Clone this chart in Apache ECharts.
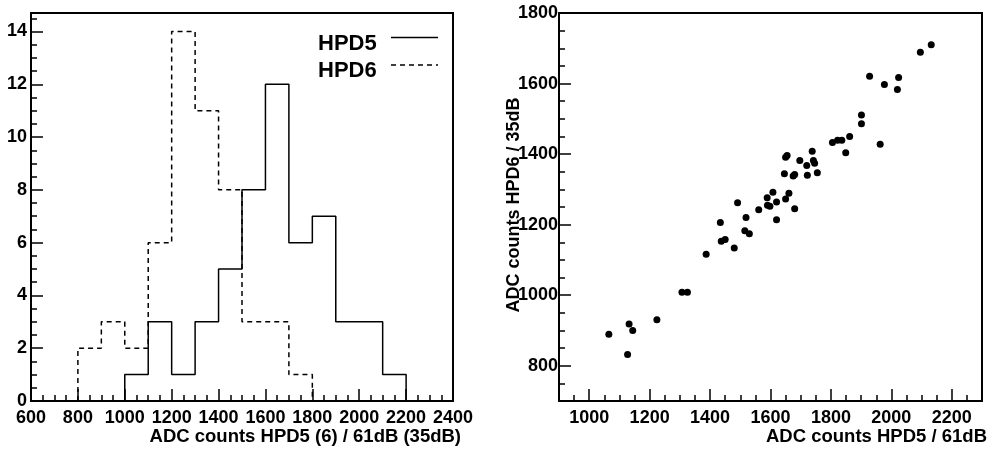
<!DOCTYPE html>
<html>
<head>
<meta charset="utf-8">
<script src="https://cdn.jsdelivr.net/npm/echarts@6/dist/echarts.min.js"></script>
<style>
  html, body { margin: 0; padding: 0; background: #fff; }
  #chart { width: 991px; height: 452px; }
</style>
</head>
<body>
<div id="chart"></div>
<script>
// ---- Data ----
const binWidth = 100;
const hpd5BinLow = [1000, 1100, 1200, 1300, 1400, 1500, 1600, 1700, 1800, 1900, 2000, 2100];
const hpd5Counts = [1, 3, 1, 3, 5, 8, 12, 6, 7, 3, 3, 1];
const hpd6BinLow = [800, 900, 1000, 1100, 1200, 1300, 1400, 1500, 1600, 1700];
const hpd6Counts = [2, 3, 2, 6, 14, 11, 8, 3, 3, 1];

const scatterHPD5 = [2132, 2096, 1928, 1977, 2024, 2020, 1901, 1901, 1963, 1862, 1849, 1805, 1822, 1836,
  1738, 1742, 1746, 1755, 1697, 1720, 1722, 1650, 1655, 1646, 1675, 1680, 1661, 1650, 1680,
  1608, 1620, 1620, 1589, 1590, 1598, 1561, 1491, 1519, 1434, 1515, 1530, 1437, 1450, 1480,
  1387, 1307, 1325, 1224, 1132, 1144, 1065, 1127];
const scatterHPD6 = [1710, 1689, 1621, 1597, 1617, 1583, 1511, 1486, 1428, 1450, 1404, 1433, 1439, 1439,
  1408, 1382, 1374, 1347, 1382, 1368, 1340, 1391, 1396, 1344, 1338, 1342, 1289, 1273, 1245,
  1292, 1264, 1214, 1276, 1255, 1252, 1242, 1262, 1220, 1206, 1183, 1174, 1153, 1158, 1134,
  1116, 1008, 1008, 930, 918, 900, 889, 832];

const leftXTitle = 'ADC counts HPD5 (6) / 61dB (35dB)';
const rightXTitle = 'ADC counts HPD5 / 61dB';
const rightYTitle = 'ADC counts HPD6 / 35dB';
const legendNames = ['HPD5', 'HPD6'];

// ---- Build histogram outlines ----
function histSteps(lows, counts) {
  const pts = [[lows[0], 0]];
  lows.forEach((b, i) => pts.push([b, counts[i]]));
  pts.push([lows[lows.length - 1] + binWidth, 0]);
  return pts;
}
const scatterData = scatterHPD5.map((x, i) => [x, scatterHPD6[i]]);

const FONT = '"Liberation Sans", Arial, Helvetica, sans-serif';
const BLACK = '#000';
const plain = v => String(v);

function labelStyle(extra) {
  return Object.assign({ show: true, color: BLACK, fontSize: 18, fontWeight: 'bold', fontFamily: FONT, formatter: plain }, extra);
}
function mainAxis(extra) {
  return Object.assign({
    type: 'value',
    axisLine: { show: true, onZero: false, lineStyle: { color: BLACK, width: 2 } },
    axisTick: { show: true, inside: true, length: 12, lineStyle: { color: BLACK, width: 1.5 } },
    splitLine: { show: false }
  }, extra);
}
function minorAxis(extra) {
  return Object.assign({
    type: 'value',
    axisLine: { show: false, onZero: false },
    axisTick: { show: true, inside: true, length: 6, lineStyle: { color: BLACK, width: 1.5 } },
    axisLabel: { show: false },
    splitLine: { show: false }
  }, extra);
}

const chart = echarts.init(document.getElementById('chart'), null, { renderer: 'canvas' });
chart.setOption({
  animation: false,
  backgroundColor: '#fff',
  grid: [
    { left: 31, top: 13, right: 538, bottom: 51, show: true, borderColor: BLACK, borderWidth: 2, backgroundColor: 'transparent' },
    { left: 559, top: 13, right: 9, bottom: 51, show: true, borderColor: BLACK, borderWidth: 2, backgroundColor: 'transparent' }
  ],
  xAxis: [
    mainAxis({ gridIndex: 0, position: 'bottom', min: 600, max: 2400, interval: 200,
      axisLabel: labelStyle({ margin: 8 }) }),
    minorAxis({ gridIndex: 0, position: 'bottom', min: 600, max: 2400, interval: 50 }),
    mainAxis({ gridIndex: 1, position: 'bottom', min: 900, max: 2300, splitNumber: 7, minInterval: 200, maxInterval: 200,
      axisLabel: labelStyle({ margin: 8, showMinLabel: false, showMaxLabel: false }) }),
    minorAxis({ gridIndex: 1, position: 'bottom', min: 900, max: 2300, interval: 50 })
  ],
  yAxis: [
    mainAxis({ gridIndex: 0, position: 'left', min: 0, max: 14.7, interval: 2,
      axisLabel: labelStyle({ margin: 4, showMaxLabel: false }) }),
    minorAxis({ gridIndex: 0, position: 'left', min: 0, max: 14.7, interval: 0.5 }),
    mainAxis({ gridIndex: 1, position: 'left', min: 700, max: 1800, splitNumber: 5, minInterval: 200, maxInterval: 200,
      axisLabel: labelStyle({ margin: 1, showMinLabel: false }) }),
    minorAxis({ gridIndex: 1, position: 'left', min: 700, max: 1800, interval: 50 })
  ],
  series: [
    { name: legendNames[0], type: 'line', xAxisIndex: 0, yAxisIndex: 0, step: 'end', symbol: 'none',
      data: histSteps(hpd5BinLow, hpd5Counts), lineStyle: { color: BLACK, width: 1.5, type: 'solid' } },
    { name: legendNames[1], type: 'line', xAxisIndex: 0, yAxisIndex: 0, step: 'end', symbol: 'none',
      data: histSteps(hpd6BinLow, hpd6Counts), lineStyle: { color: BLACK, width: 1.5, type: [5, 4] } },
    { name: 'HPD6 vs HPD5', type: 'scatter', xAxisIndex: 2, yAxisIndex: 2, symbol: 'circle', symbolSize: 7,
      data: scatterData, itemStyle: { color: BLACK, opacity: 1 } }
  ],
  graphic: [
    { type: 'text', x: 318, y: 44, style: { text: legendNames[0], fill: BLACK, font: 'bold 22px ' + FONT, textAlign: 'left', textVerticalAlign: 'middle' } },
    { type: 'line', shape: { x1: 391, y1: 37.5, x2: 438, y2: 37.5 }, style: { stroke: BLACK, lineWidth: 1.5 } },
    { type: 'text', x: 318, y: 71, style: { text: legendNames[1], fill: BLACK, font: 'bold 22px ' + FONT, textAlign: 'left', textVerticalAlign: 'middle' } },
    { type: 'line', shape: { x1: 391, y1: 65, x2: 438, y2: 65 }, style: { stroke: BLACK, lineWidth: 1.5, lineDash: [5, 4] } },
    { type: 'text', x: 461, y: 437, style: { text: leftXTitle, fill: BLACK, font: 'bold 18.5px ' + FONT, textAlign: 'right', textVerticalAlign: 'middle' } },
    { type: 'text', x: 987, y: 437, style: { text: rightXTitle, fill: BLACK, font: 'bold 18.5px ' + FONT, textAlign: 'right', textVerticalAlign: 'middle' } },
    { type: 'text', x: 514, y: 205, rotation: Math.PI / 2, style: { text: rightYTitle, fill: BLACK, font: 'bold 18px ' + FONT, textAlign: 'center', textVerticalAlign: 'middle' } }
  ]
});
</script>
</body>
</html>
